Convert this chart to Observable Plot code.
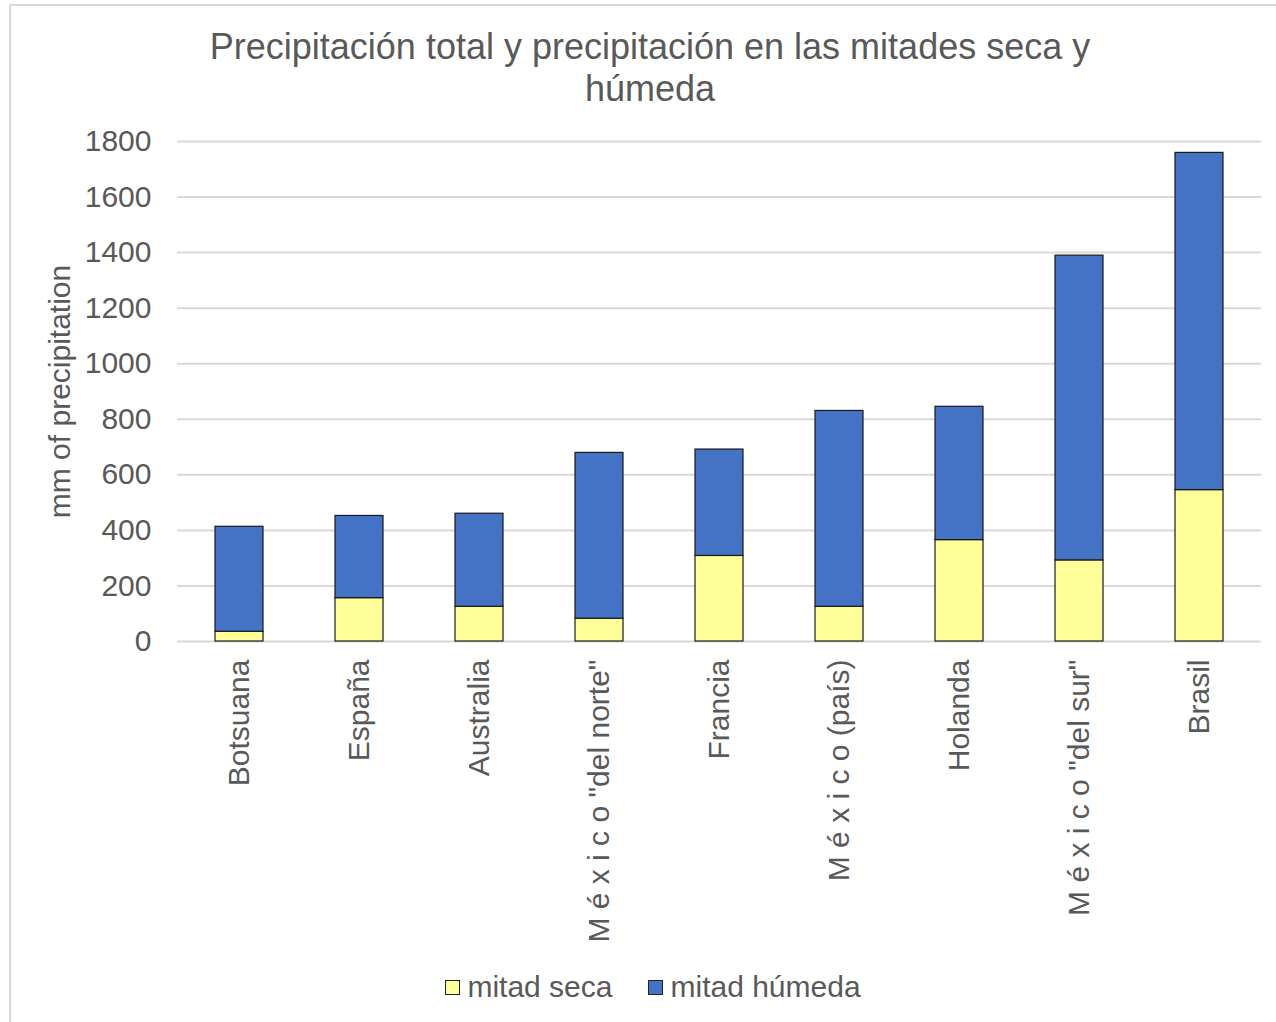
<!DOCTYPE html>
<html>
<head>
<meta charset="utf-8">
<script src="https://cdn.jsdelivr.net/npm/d3@7"></script>
<script src="https://cdn.jsdelivr.net/npm/@observablehq/plot@0.6"></script>
<style>
  html, body { margin: 0; padding: 0; background: #fff; }
  #wrap { position: relative; width: 1276px; height: 1022px; overflow: hidden; font-family: "Liberation Sans", Arial, sans-serif; color: #595959; }
  #frame { position: absolute; left: 9px; top: 4px; width: 1290px; height: 1030px; border: 2px solid #d9d9d9; box-sizing: border-box; }
  #title { position: absolute; left: 0; top: 26px; width: 1300px; text-align: center; font-size: 36px; line-height: 42px; color: #595959; }
  #chart { position: absolute; left: 0; top: 120px; }
  #legend { position: absolute; top: 970px; left: 0; width: 1306px; display: flex; justify-content: center; gap: 36px; font-size: 30px; color: #595959; }
  .item { display: flex; align-items: center; gap: 7px; }
  .sw { width: 13px; height: 13px; border: 1px solid #222; }
</style>
</head>
<body>
<div id="wrap">
  <div id="frame"></div>
  <div id="title">Precipitación total y precipitación en las mitades seca y<br>húmeda</div>
  <div id="chart"></div>
  <div id="legend"></div>
</div>
<script>
const categories = ["Botsuana", "España", "Australia", "M é x i c o \"del norte\"", "Francia", "M é x i c o (país)", "Holanda", "M é x i c o \"del sur\"", "Brasil"];
const dryHalf = [35, 156, 125, 82, 308, 125, 365, 292, 545];
const wetHalf = [378, 296, 335, 597, 383, 705, 480, 1097, 1214];
const seriesNames = ["mitad seca", "mitad húmeda"];
const seriesColors = ["#FFFF99", "#4472C4"];
const yTicks = [0, 200, 400, 600, 800, 1000, 1200, 1400, 1600, 1800];

const data = [];
categories.forEach((c, i) => {
  data.push({category: c, series: seriesNames[0], value: dryHalf[i]});
  data.push({category: c, series: seriesNames[1], value: wetHalf[i]});
});

const chart = Plot.plot({
  width: 1276,
  height: 840,
  marginTop: 21,
  marginBottom: 319,
  marginLeft: 177,
  marginRight: 15,
  style: {fontFamily: "'Liberation Sans', Arial, sans-serif", color: "#595959", background: "transparent"},
  x: {domain: categories, paddingInner: 0.6, paddingOuter: 0.3, label: null},
  y: {domain: [0, 1800], label: null},
  color: {domain: seriesNames, range: seriesColors},
  marks: [
    Plot.ruleY(yTicks, {stroke: "#d9d9d9", strokeWidth: 2}),
    Plot.barY(data, Plot.stackY({x: "category", y: "value", fill: "series", stroke: "#1a1a1a", strokeWidth: 1.2, order: seriesNames})),
    Plot.axisY({ticks: yTicks, tickSize: 0, tickPadding: 26, tickFormat: d => String(d), fontSize: 30, fill: "#595959", label: null}),
    Plot.axisX({tickSize: 0, tickPadding: 18, tickRotate: -90, fontSize: 30, fill: "#595959", label: null}),
    Plot.text(["mm of precipitation"], {frameAnchor: "left", dx: -117, rotate: -90, textAnchor: "middle", fontSize: 30, fill: "#595959"})
  ]
});
document.getElementById("chart").appendChild(chart);

const legend = document.getElementById("legend");
seriesNames.forEach((s, i) => {
  const item = document.createElement("div");
  item.className = "item";
  const sw = document.createElement("div");
  sw.className = "sw";
  sw.style.background = seriesColors[i];
  const t = document.createElement("span");
  t.textContent = s;
  item.appendChild(sw);
  item.appendChild(t);
  legend.appendChild(item);
});
</script>
</body>
</html>
